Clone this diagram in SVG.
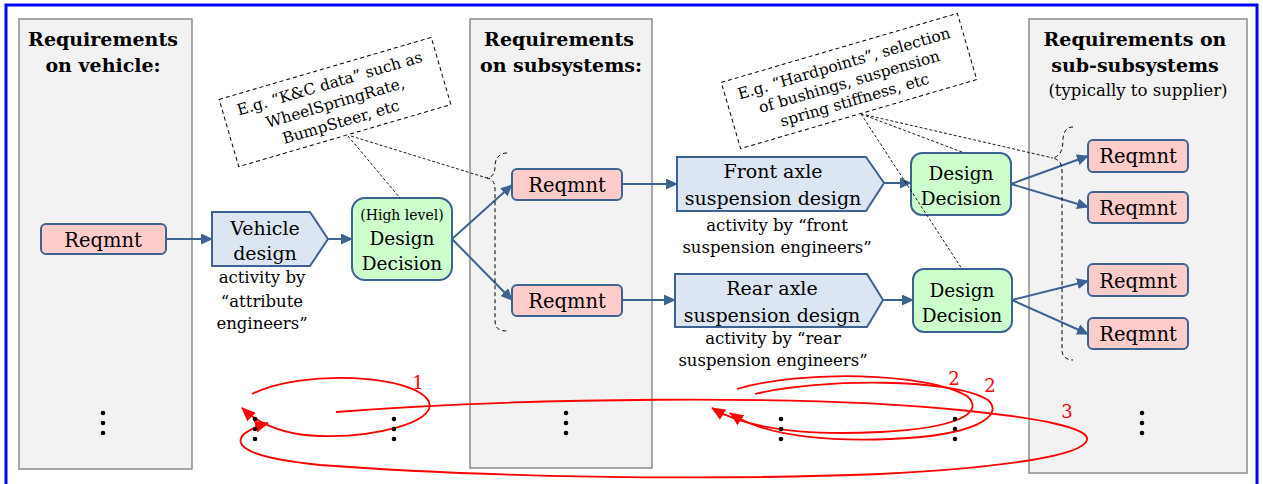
<svg xmlns="http://www.w3.org/2000/svg" width="1263" height="484" viewBox="0 0 1263 484">
  <defs>
    <marker id="arr" markerUnits="userSpaceOnUse" markerWidth="12" markerHeight="11" refX="11" refY="5.5" orient="auto">
      <path d="M0,0 L12,5.5 L0,11 z" fill="#3d6392"/>
    </marker>
    <marker id="redarr" markerUnits="userSpaceOnUse" markerWidth="14" markerHeight="12" refX="13" refY="6" orient="auto">
      <path d="M0,0 L14,6 L0,12 z" fill="#ff0000"/>
    </marker>
    <style>
      text { font-family: "DejaVu Serif", "Liberation Serif", serif; fill: #000; text-anchor: middle; }
      .panel { fill: #f2f2f2; stroke: #8c8c8c; stroke-width: 1.5; }
      .title { font-weight: bold; font-size: 19px; }
      .sub { font-size: 16.5px; }
      .req rect { fill: #ffcccc; stroke: #3d6392; stroke-width: 2; }
      .req text { font-size: 19.5px; }
      .act polygon { fill: #dce6f2; stroke: #3d6392; stroke-width: 2; }
      .act text { font-size: 19px; }
      .dec rect { fill: #ccffcc; stroke: #3d6392; stroke-width: 2; }
      .dec text { font-size: 18.5px; }
      .act text.note { font-size: 16.5px; }
      .callout rect { fill: #fff; stroke: #000; stroke-width: 1; stroke-dasharray: 4 3; }
      .callout text { font-size: 15.5px; }
      .flow { fill: none; stroke: #3d6392; stroke-width: 2; marker-end: url(#arr); }
      .thin { fill: none; stroke: #000; stroke-width: 0.9; stroke-dasharray: 3 2; }
      .brace { fill: none; stroke: #000; stroke-width: 1; stroke-dasharray: 4 3; }
      .loop { fill: none; stroke: #ff0000; stroke-width: 1.8; marker-end: url(#redarr); }
      .num { fill: #ff0000; font-size: 18px; }
      .dot { fill: #000; }
    </style>
  </defs>

  <rect x="0" y="0" width="1263" height="484" fill="#fff"/>
  <rect x="6" y="5" width="1251" height="495" fill="none" stroke="#0000ff" stroke-width="3"/>

  <!-- column panels -->
  <g id="panel-vehicle">
    <rect class="panel" x="19" y="19" width="173" height="450"/>
    <text class="title" x="103" y="46">Requirements</text>
    <text class="title" x="103" y="72">on vehicle:</text>
  </g>
  <g id="panel-subsystems">
    <rect class="panel" x="470" y="19" width="182" height="449"/>
    <text class="title" x="559" y="46">Requirements</text>
    <text class="title" x="561" y="72">on subsystems:</text>
  </g>
  <g id="panel-subsubsystems">
    <rect class="panel" x="1029" y="19" width="218" height="454"/>
    <text class="title" x="1135" y="46">Requirements on</text>
    <text class="title" x="1135" y="72">sub-subsystems</text>
    <text class="sub" x="1138" y="96">(typically to supplier)</text>
  </g>

  <!-- callout notes -->
  <g id="note-kc" class="callout" transform="translate(335,102) rotate(-16.3)">
    <rect x="-110.5" y="-35" width="221" height="70"/>
    <text x="0" y="-14">E.g. “K&amp;C data” such as</text>
    <text x="0" y="6">WheelSpringRate,</text>
    <text x="0" y="26">BumpSteer, etc</text>
  </g>
  <g id="note-hardpoints" class="callout" transform="translate(849,81) rotate(-16.3)">
    <rect x="-123" y="-34.5" width="246" height="69"/>
    <text x="0" y="-13">E.g. “Hardpoints”, selection</text>
    <text x="0" y="6">of bushings, suspension</text>
    <text x="0" y="25">spring stiffness, etc</text>
  </g>

  <!-- vehicle level -->
  <g id="req-vehicle" class="req">
    <rect x="41" y="224" width="125" height="30" rx="5"/>
    <text x="103" y="247">Reqmnt</text>
  </g>
  <g id="act-vehicle" class="act">
    <polygon points="212,212 310,212 328,239 310,266 212,266"/>
    <text x="265" y="235">Vehicle</text>
    <text x="265" y="260">design</text>
    <text class="note" x="262" y="283">activity by</text>
    <text class="note" x="262" y="307">“attribute</text>
    <text class="note" x="262" y="329">engineers”</text>
  </g>
  <g id="dec-high" class="dec">
    <rect x="352" y="198" width="100" height="82" rx="13"/>
    <text x="402" y="220" style="font-size:14px">(High level)</text>
    <text x="402" y="245">Design</text>
    <text x="402" y="270">Decision</text>
  </g>

  <!-- subsystem level -->
  <g id="req-front" class="req">
    <rect x="512" y="169" width="110" height="31" rx="5"/>
    <text x="567" y="192">Reqmnt</text>
  </g>
  <g id="req-rear" class="req">
    <rect x="512" y="285" width="110" height="31" rx="5"/>
    <text x="567" y="308">Reqmnt</text>
  </g>
  <g id="act-front" class="act">
    <polygon points="677,157 866,157 884,183 866,211 677,211"/>
    <text x="773" y="178">Front axle</text>
    <text x="773" y="205">suspension design</text>
    <text class="note" x="777" y="231">activity by “front</text>
    <text class="note" x="777" y="253">suspension engineers”</text>
  </g>
  <g id="act-rear" class="act">
    <polygon points="675,274 867,274 883,300 867,327 675,327"/>
    <text x="772" y="295">Rear axle</text>
    <text x="772" y="322">suspension design</text>
    <text class="note" x="773" y="344">activity by “rear</text>
    <text class="note" x="773" y="366">suspension engineers”</text>
  </g>
  <g id="dec-front" class="dec">
    <rect x="911" y="153" width="100" height="62" rx="11"/>
    <text x="961" y="180">Design</text>
    <text x="961" y="205">Decision</text>
  </g>
  <g id="dec-rear" class="dec">
    <rect x="913" y="269" width="99" height="63" rx="11"/>
    <text x="962" y="297">Design</text>
    <text x="962" y="322">Decision</text>
  </g>

  <!-- sub-subsystem level -->
  <g id="req-ss1" class="req">
    <rect x="1088" y="140" width="100" height="32" rx="5"/>
    <text x="1138" y="163">Reqmnt</text>
  </g>
  <g id="req-ss2" class="req">
    <rect x="1088" y="192" width="100" height="31" rx="5"/>
    <text x="1138" y="215">Reqmnt</text>
  </g>
  <g id="req-ss3" class="req">
    <rect x="1088" y="264" width="100" height="32" rx="5"/>
    <text x="1138" y="288">Reqmnt</text>
  </g>
  <g id="req-ss4" class="req">
    <rect x="1088" y="318" width="100" height="31" rx="5"/>
    <text x="1138" y="341">Reqmnt</text>
  </g>

  <!-- connectors -->
  <g id="connectors">
    <path class="flow" d="M166,239 L212,239"/>
    <path class="flow" d="M328,239 L352,239"/>
    <path class="flow" d="M452,239 L512,185"/>
    <path class="flow" d="M452,239 L512,300"/>
    <path class="flow" d="M622,184 L677,184"/>
    <path class="flow" d="M622,300 L675,300"/>
    <path class="flow" d="M884,183 L911,183"/>
    <path class="flow" d="M883,300 L913,300"/>
    <path class="flow" d="M1011,184 L1088,156"/>
    <path class="flow" d="M1011,184 L1088,207"/>
    <path class="flow" d="M1012,300 L1088,281"/>
    <path class="flow" d="M1012,300 L1088,334"/>

    <!-- callout leaders -->
    <path class="thin" d="M348,136 L400,198"/>
    <path class="thin" d="M351,136 L487,178"/>
    <path class="thin" d="M861,114 L962,152"/>
    <path class="thin" d="M861,114 L962,269"/>
    <path class="thin" d="M866,115 L1053,158"/>

    <!-- grouping braces -->
    <path class="brace" d="M507,153 C499,153 495,159 495,166 C495,173 493,177 487,178 C493,179 495,183 495,190 L495,321 C495,328 499,331 507,331"/>
    <path class="brace" d="M1073,127 C1066,127 1063,133 1063,140 C1063,150 1060,156 1053,158 C1060,160 1062,164 1062,172 L1062,350 C1062,356 1066,360 1073,360"/>

    <!-- iteration loops -->
    <path class="loop" d="M252,394 C300,369 415,374 429,402 C437,423 370,438 320,436 C290,435 262,427 242,408"/>
    <path class="loop" d="M336,412 C520,398 800,394 960,410 C1040,418 1090,428 1087,440 C1083,456 1000,468 880,474 C700,481 480,477 320,465 C250,458 232,446 244,434 C250,429 258,426 268,423"/>
    <path class="loop" d="M737,389 C800,370 925,372 967,396 C985,412 960,428 880,432 C800,436 745,428 712,408"/>
    <path class="loop" d="M755,394 C820,378 955,378 988,400 C1005,416 975,436 890,439 C810,442 760,433 730,413"/>
    <text class="num" x="418" y="389">1</text>
    <text class="num" x="954" y="385">2</text>
    <text class="num" x="990" y="392">2</text>
    <text class="num" x="1067" y="418">3</text>
  </g>

  <!-- continuation dots -->
  <g id="ellipses" class="dot">
    <circle cx="103" cy="413" r="2.3"/><circle cx="103" cy="423" r="2.3"/><circle cx="103" cy="433" r="2.3"/>
    <circle cx="566" cy="413" r="2.3"/><circle cx="566" cy="423" r="2.3"/><circle cx="566" cy="433" r="2.3"/>
    <circle cx="1142" cy="413" r="2.3"/><circle cx="1142" cy="423" r="2.3"/><circle cx="1142" cy="433" r="2.3"/>
    <circle cx="255" cy="419" r="2.3"/><circle cx="255" cy="429" r="2.3"/><circle cx="255" cy="439" r="2.3"/>
    <circle cx="394" cy="419" r="2.3"/><circle cx="394" cy="429" r="2.3"/><circle cx="394" cy="439" r="2.3"/>
    <circle cx="781" cy="419" r="2.3"/><circle cx="781" cy="429" r="2.3"/><circle cx="781" cy="439" r="2.3"/>
    <circle cx="955" cy="419" r="2.3"/><circle cx="955" cy="429" r="2.3"/><circle cx="955" cy="439" r="2.3"/>
  </g>
</svg>
